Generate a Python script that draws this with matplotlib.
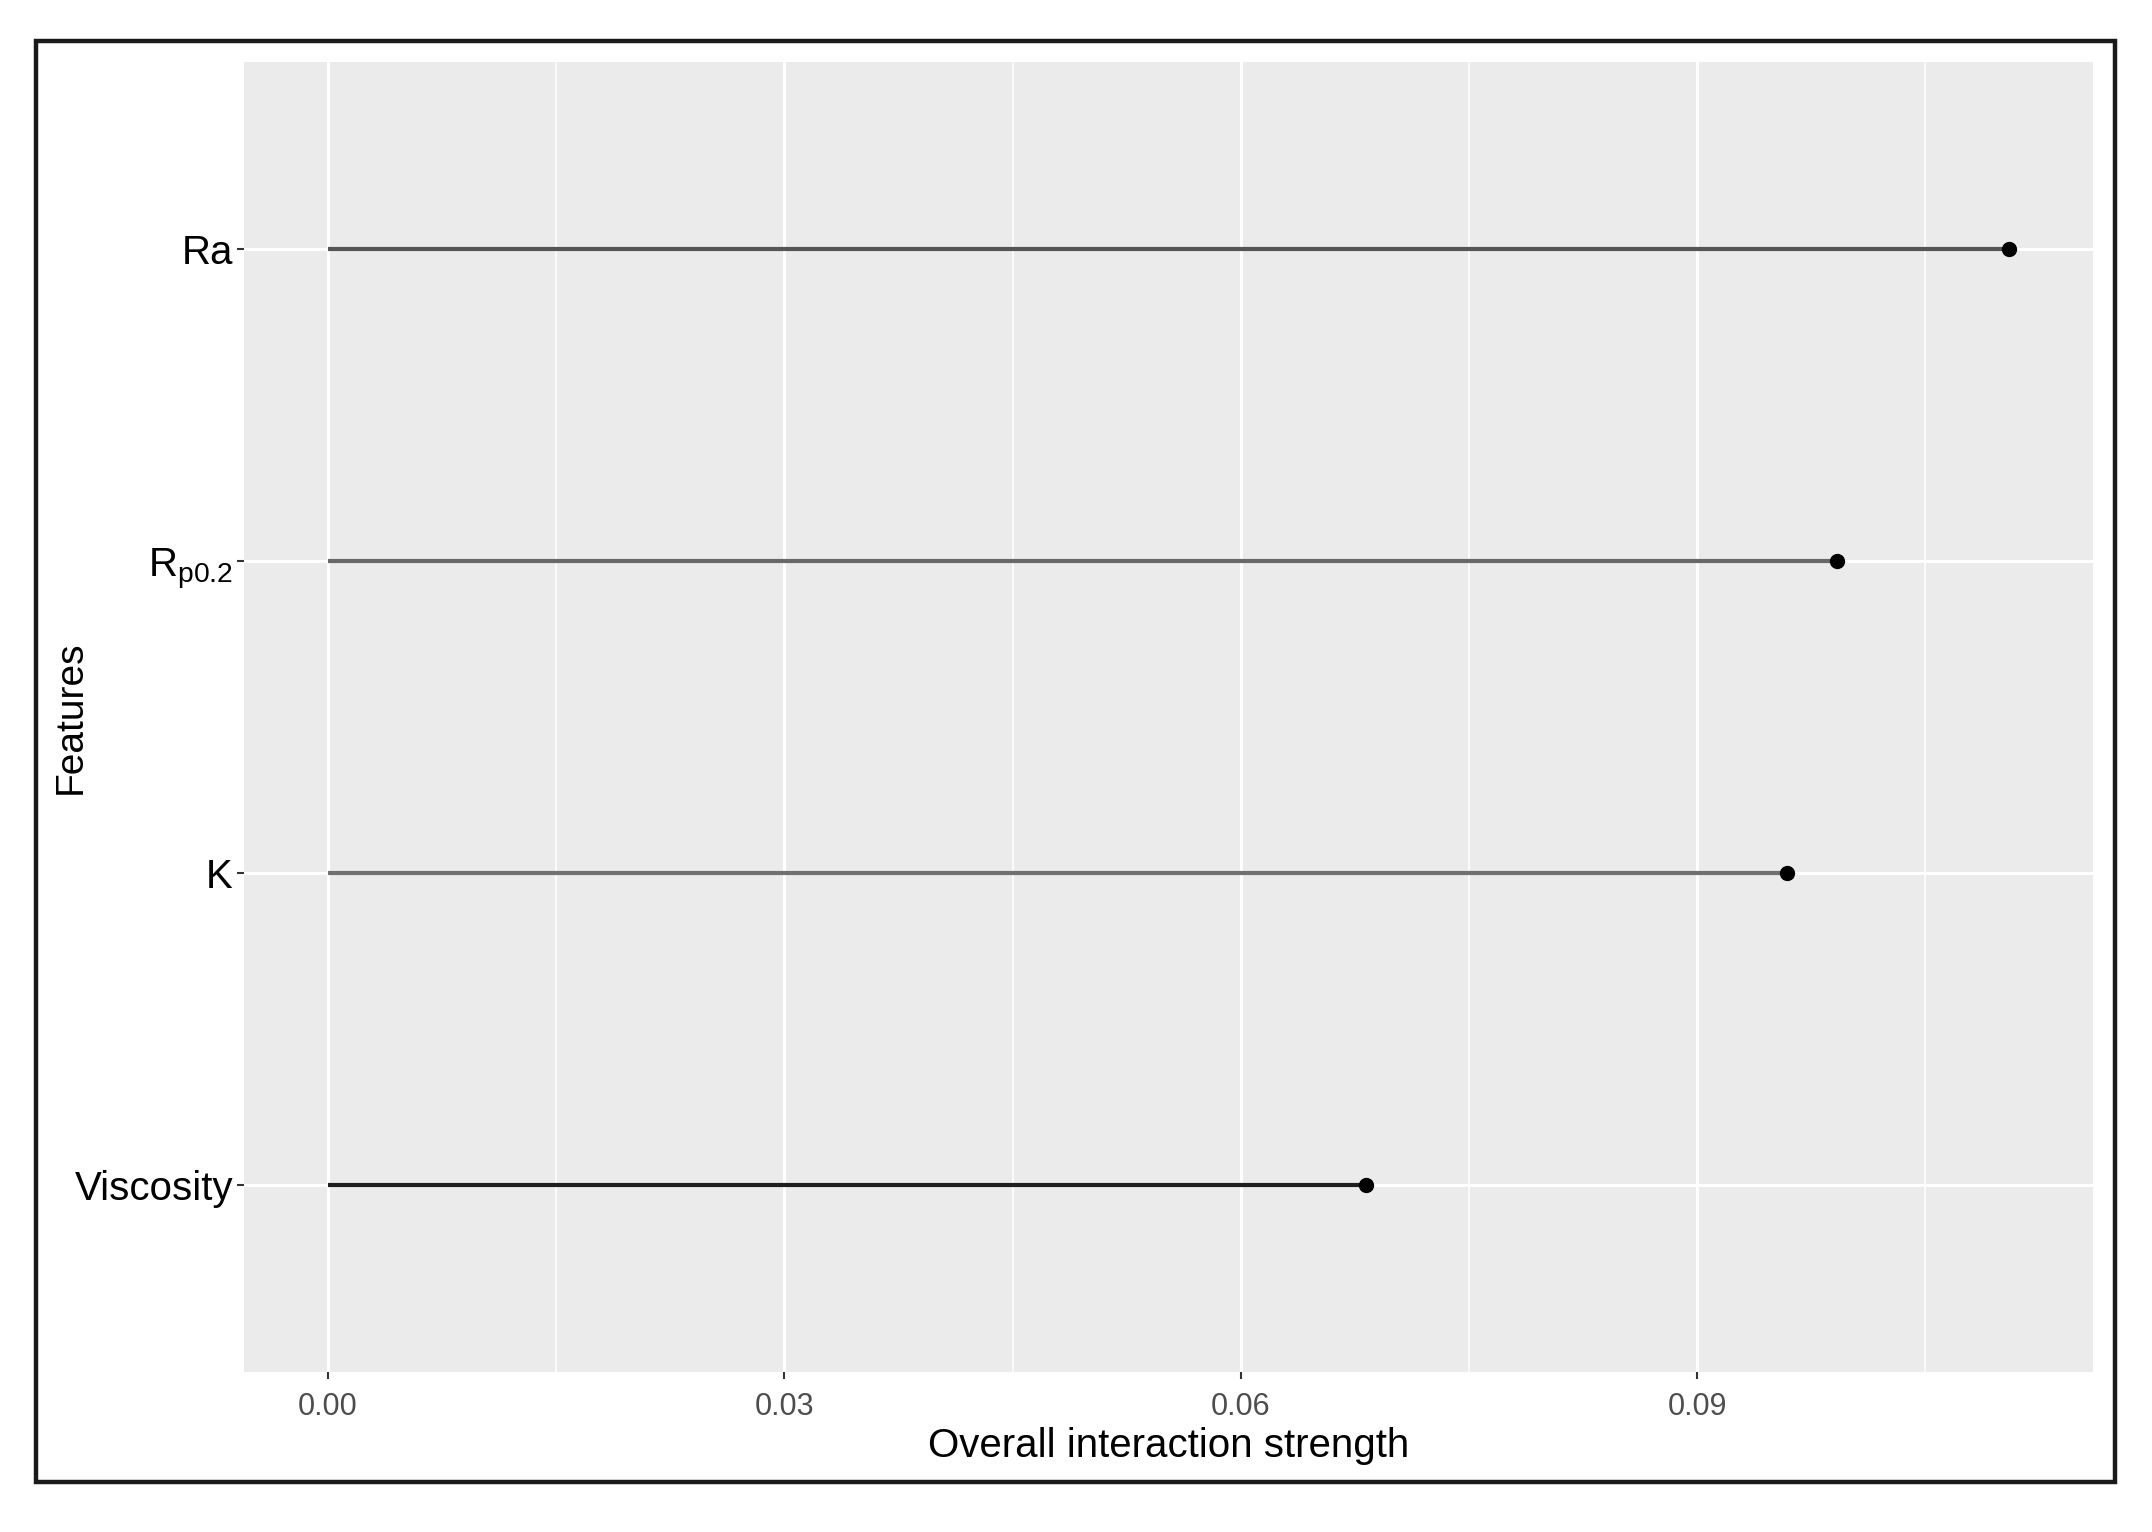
import numpy as np
import matplotlib.pyplot as plt
from matplotlib.patches import Rectangle
from matplotlib.ticker import MultipleLocator

# ____________________________________________________________________________________________________
# Data

features = ["Viscosity", "K", r"R$_{\mathrm{p0.2}}$", "Ra"]
strength = [0.0682, 0.0959, 0.0992, 0.1105]
line_colors = ["#1e1e1e", "#707070", "#686868", "#555555"]
x_ticks = [0.00, 0.03, 0.06, 0.09]
x_tick_labels = ["0.00", "0.03", "0.06", "0.09"]

# ____________________________________________________________________________________________________
# Style

plt.rcParams["font.family"] = ["Liberation Sans", "DejaVu Sans"]
plt.rcParams["mathtext.fontset"] = "custom"
plt.rcParams["mathtext.rm"] = "Liberation Sans"
plt.rcParams["mathtext.it"] = "Liberation Sans:italic"

fig = plt.figure(figsize=(21.52, 15.32), dpi=100)
ax = fig.add_axes([0.1134, 0.1044, 0.9726 - 0.1134, 0.9595 - 0.1044])
ax.set_facecolor("#ebebeb")

y = np.arange(len(features))
for yi, v, c in zip(y, strength, line_colors):
    ax.plot([0, v], [yi, yi], color=c, lw=3.0, solid_capstyle="butt", zorder=3)
ax.plot(strength, y, "o", color="black", ms=10, zorder=4)

# ggplot-style expansion
rng = max(strength)
ax.set_xlim(-0.05 * rng, rng * 1.05)
ax.set_ylim(-0.6, len(features) - 1 + 0.6)

ax.set_xticks(x_ticks)
ax.set_xticklabels(x_tick_labels)
ax.xaxis.set_minor_locator(MultipleLocator(0.015))
ax.set_yticks(y)
ax.set_yticklabels(features)

ax.grid(which="major", color="white", lw=2.2, zorder=0)
ax.grid(which="minor", axis="x", color="white", lw=1.1, zorder=0)
ax.set_axisbelow(True)
ax.tick_params(axis="x", which="minor", length=0)
ax.tick_params(axis="x", which="major", length=5, width=1.5, color="#333333",
               labelsize=22, labelcolor="#4d4d4d", pad=9)
ax.tick_params(axis="y", length=5, width=1.5, color="#333333",
               labelsize=29, labelcolor="black", pad=3)
for s in ax.spines.values():
    s.set_visible(False)

ax.set_xlabel("Overall interaction strength", fontsize=29, labelpad=4)
ax.set_ylabel("Features", fontsize=28)
ax.yaxis.set_label_coords(-0.084, 0.5)

# outer frame
fig.patches.append(Rectangle((0.0167, 0.0326), 0.9828 - 0.0167, 0.9732 - 0.0326,
                             transform=fig.transFigure, fill=False,
                             edgecolor="#1a1a1a", lw=3.2))

fig.savefig("out.png", dpi=100, facecolor="white")
